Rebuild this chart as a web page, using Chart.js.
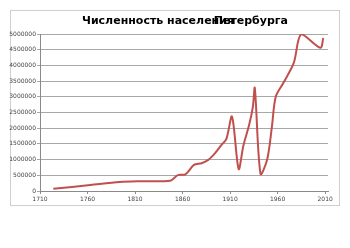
<!DOCTYPE html>
<html>
<head>
<meta charset="utf-8">
<script src="https://cdn.jsdelivr.net/npm/chart.js@4"></script>
<style>
  body { margin: 0; background: #fff; }
  #wrap { width: 350px; height: 248px; }
</style>
</head>
<body>
<div id="wrap"><canvas id="popChart" width="350" height="248"></canvas></div>
<script>
// Population data
const years = [1724, 1763, 1794, 1815, 1847, 1855, 1863, 1872, 1880, 1887, 1894, 1901, 1906, 1912,
  1919, 1924, 1930, 1934, 1936, 1942, 1949, 1954, 1958, 1966, 1977, 1985, 2005, 2008];
const population = [70000, 190000, 285000, 310000, 330000, 505000, 530000, 830000, 885000, 990000,
  1200000, 1470000, 1650000, 2370000, 700000, 1450000, 2100000, 2690000, 3280000, 545000,
  1000000, 2050000, 3000000, 3440000, 4080000, 5000000, 4560000, 4870000];
const xTicks = [1710, 1760, 1810, 1860, 1910, 1960, 2010];
const titleLeft = "Численность населения";
const titleRight = "Петербурга";

// frame + overlapping title
const framePlugin = {
  id: "frame",
  beforeDraw(chart) {
    const c = chart.ctx;
    c.save();
    c.fillStyle = "#fff";
    c.fillRect(0, 0, chart.width, chart.height);
    c.strokeStyle = "#cfcfcf";
    c.lineWidth = 1;
    c.strokeRect(10.5, 10.5, 329, 195);
    c.restore();
  },
  afterDraw(chart) {
    const c = chart.ctx;
    c.save();
    c.font = "bold 11px 'DejaVu Sans', sans-serif";
    c.fillStyle = "#000";
    c.textBaseline = "middle";
    c.textAlign = "left";
    c.fillText(titleLeft, 82, 21);
    c.textAlign = "right";
    c.fillText(titleRight, 288, 21);
    c.restore();
  }
};

const ctx = document.getElementById("popChart").getContext("2d");
new Chart(ctx, {
  type: "line",
  data: {
    datasets: [{
      data: years.map((y, i) => ({ x: y, y: population[i] })),
      borderColor: "#c0504d",
      borderWidth: 2,
      pointRadius: 0,
      tension: 0.3,
      fill: false
    }]
  },
  options: {
    responsive: false,
    animation: false,
    layout: { padding: { top: 34, right: 22, left: 0, bottom: 0 } },
    plugins: { legend: { display: false }, tooltip: { enabled: false } },
    scales: {
      x: {
        type: "linear",
        min: 1710,
        max: 2013,
        afterBuildTicks: s => { s.ticks = xTicks.map(v => ({ value: v })); },
        afterFit: s => { s.height = 57; },
        border: { color: "#8a8a8a", width: 1 },
        grid: { drawOnChartArea: false, tickLength: 3, color: "#8a8a8a" },
        ticks: {
          font: { size: 6, family: "DejaVu Sans" },
          color: "#444",
          padding: 2,
          maxRotation: 0,
          callback: v => String(v)
        }
      },
      y: {
        min: 0,
        max: 5000000,
        afterFit: s => { s.width = 40; },
        border: { color: "#8a8a8a", width: 1 },
        grid: { color: "#a8a8a8", lineWidth: 1, tickLength: 3 },
        ticks: {
          stepSize: 500000,
          font: { size: 6, family: "DejaVu Sans" },
          color: "#444",
          padding: 1,
          callback: v => String(v)
        }
      }
    }
  },
  plugins: [framePlugin]
});
</script>
</body>
</html>
